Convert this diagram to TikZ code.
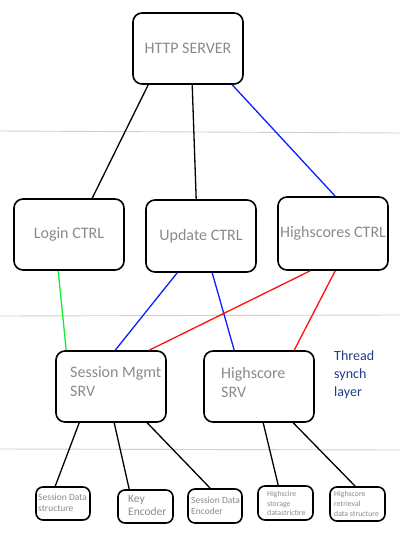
\documentclass[tikz,border=0pt]{standalone}
\usepackage{fontspec}
\setmainfont{Carlito}
\definecolor{txtgray}{HTML}{8A8A8A}
\definecolor{layergray}{HTML}{D0D0D0}
\definecolor{threadblue}{HTML}{1F3C88}
\definecolor{lnblue}{HTML}{0A1EFF}
\definecolor{lnred}{HTML}{FF1010}
\definecolor{lngreen}{HTML}{10F030}
\begin{document}
\begin{tikzpicture}[x=1pt,y=-1pt,
  bigbox/.style={draw=black,line width=1.6pt,rounded corners=9pt,minimum width=110pt,minimum height=71pt,inner sep=0pt,text=txtgray,font=\fontsize{16}{19}\selectfont},
  smallbox/.style={draw=black,line width=1.6pt,rounded corners=7pt,minimum width=55pt,minimum height=34pt,inner sep=0pt},
  lbl/.style={anchor=west,inner sep=0pt,align=left,text=txtgray},
  conn/.style={line width=1.3pt},
  layer/.style={draw=layergray,line width=0.9pt}]
\useasboundingbox (0,0) rectangle (400,551);
% layer lines
\draw[layer] (0,131) -- (400,133);
\draw[layer] (0,316) -- (400,315);
\draw[layer] (0,449) -- (400,450);
% big boxes
\node[bigbox] (http) at (188,48.5) {HTTP SERVER};
\node[bigbox] (login) at (69,234.5) {Login CTRL};
\node[bigbox,minimum height=72pt] (update) at (201,236) {Update CTRL};
\node[bigbox,minimum height=73pt] (hsctrl) at (333,233.5) {Highscores CTRL};
\node[bigbox] (sess) at (111,386.5) {};
\node[bigbox] (hssrv) at (259,386.5) {};
\node[lbl,font=\fontsize{16}{19}\selectfont] (sesstext) at (70,382) {Session Mgmt\\SRV};
\node[lbl,font=\fontsize{16}{19}\selectfont] (hstext) at (221,382) {Highscore\\SRV};
\node[lbl,text=threadblue,font=\fontsize{14}{18}\selectfont] (thread) at (334,375) {Thread\\synch\\layer};
% small boxes
\node[smallbox,minimum width=54pt,minimum height=33pt] (b1) at (63,503.5) {};
\node[smallbox,minimum height=33pt] (b2) at (145.5,506.5) {};
\node[smallbox,minimum width=54pt] (b3) at (215,506) {};
\node[smallbox] (b4) at (285.5,503) {};
\node[smallbox] (b5) at (357.5,504) {};
\node[lbl,font=\fontsize{9.5}{11}\selectfont] (t1) at (38,503) {Session Data\\structure};
\node[lbl,font=\fontsize{11.5}{13}\selectfont] (t2) at (128,505) {Key\\Encoder};
\node[lbl,font=\fontsize{9.5}{11}\selectfont] (t3) at (191,506) {Session Data\\Encoder};
\node[lbl,font=\fontsize{7.8}{9.5}\selectfont] (t4) at (267,503.5) {Highscire\\storage\\datastrictire};
\node[lbl,font=\fontsize{7.8}{10}\selectfont] (t5) at (334,504) {Highscore\\retrieval\\data structure};
% connectors
\draw[conn] ([xshift=16pt]http.south west) -- ([xshift=79pt]login.north west);
\draw[conn] ([xshift=60pt]http.south west) -- ([xshift=51pt]update.north west);
\draw[conn,lnblue] ([xshift=100pt]http.south west) -- ([xshift=58pt]hsctrl.north west);
\draw[conn,lngreen] ([xshift=45pt]login.south west) -- ([xshift=11pt]sess.north west);
\draw[conn,lnblue] ([xshift=32pt]update.south west) -- ([xshift=60pt]sess.north west);
\draw[conn,lnblue] ([xshift=67pt]update.south west) -- ([xshift=31pt]hssrv.north west);
\draw[conn,lnred] ([xshift=33pt]hsctrl.south west) -- ([xshift=94pt]sess.north west);
\draw[conn,lnred] ([xshift=58pt]hsctrl.south west) -- ([xshift=91pt]hssrv.north west);
\draw[conn] ([xshift=24pt]sess.south west) -- ([xshift=20pt]b1.north west);
\draw[conn] ([xshift=59pt]sess.south west) -- ([xshift=12pt]b2.north west);
\draw[conn] ([xshift=92pt]sess.south west) -- ([xshift=23pt]b3.north west);
\draw[conn] ([xshift=60pt]hssrv.south west) -- ([xshift=21pt]b4.north west);
\draw[conn] ([xshift=90pt]hssrv.south west) -- ([xshift=26pt]b5.north west);
\end{tikzpicture}
\end{document}
